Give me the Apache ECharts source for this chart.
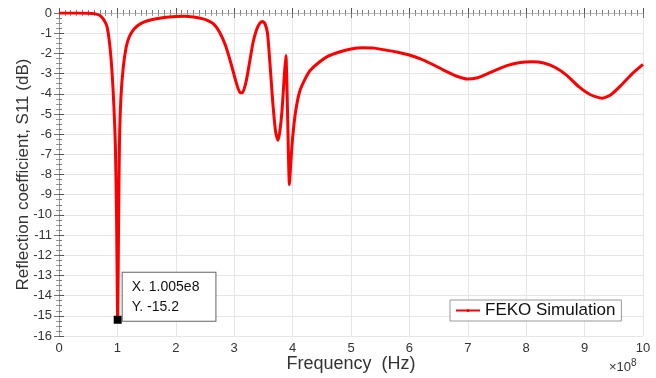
<!DOCTYPE html>
<html>
<head>
<meta charset="utf-8">
<script src="https://cdn.jsdelivr.net/npm/echarts@6/dist/echarts.min.js"></script>
<style>
  html, body { margin: 0; padding: 0; background: #fff; }
  #chart { width: 656px; height: 378px; }
</style>
</head>
<body>
<div id="chart"></div>
<script>
// Frequency in units of 1e8 Hz
const freq = [0, 0.3, 0.5, 0.6, 0.7, 0.76, 0.82, 0.87, 0.91, 0.94, 0.965, 0.985, 1.005,
  1.02, 1.035, 1.06, 1.1, 1.15, 1.2, 1.27, 1.35, 1.45, 1.6, 1.8, 2.0, 2.15, 2.3, 2.45,
  2.55, 2.65, 2.75, 2.85, 2.95, 3.03, 3.1, 3.14, 3.2, 3.26, 3.32, 3.38, 3.44, 3.49, 3.53,
  3.57, 3.61, 3.66, 3.71, 3.75, 3.78, 3.82, 3.86, 3.885, 3.905, 3.925, 3.945, 3.97, 4.0,
  4.05, 4.12, 4.2, 4.3, 4.45, 4.6, 4.8, 5.0, 5.2, 5.4, 5.6, 5.8, 6.0, 6.2, 6.4, 6.6, 6.8,
  7.0, 7.15, 7.3, 7.5, 7.7, 7.9, 8.1, 8.3, 8.5, 8.7, 8.9, 9.1, 9.3, 9.45, 9.6, 9.8, 10.0];
// Reflection coefficient S11 in dB
const s11 = [0, 0, -0.01, -0.03, -0.12, -0.3, -0.65, -1.6, -3.0, -4.6, -6.5, -10, -15.2,
  -10.5, -6.5, -4.2, -2.7, -1.7, -1.2, -0.85, -0.62, -0.45, -0.32, -0.22, -0.17, -0.16, -0.2, -0.28,
  -0.38, -0.55, -0.95, -1.6, -2.55, -3.4, -3.95, -3.95, -3.45, -2.5, -1.5, -0.85, -0.5, -0.42, -0.55,
  -1.0, -2.4, -4.4, -5.9, -6.3, -5.9, -4.8, -3.0, -2.1, -3.8, -6.5, -8.5, -7.4, -6.2,
  -4.9, -3.9, -3.35, -2.85, -2.45, -2.15, -1.93, -1.78, -1.72, -1.74, -1.84, -1.94, -2.08, -2.28, -2.55, -2.85, -3.12,
  -3.27, -3.22, -3.05, -2.8, -2.58, -2.45, -2.42, -2.48, -2.7, -3.1, -3.65, -4.05, -4.22, -4.05, -3.65, -3.05, -2.55];

const seriesName = 'FEKO Simulation';
const tipX = 1.005;
const tipY = -15.2;

const chart = echarts.init(document.getElementById('chart'));
const font = 'Liberation Sans, Arial, sans-serif';

const axisCommon = {
  axisLine: { show: true, lineStyle: { color: '#555', width: 1 } },
  axisTick: { show: true, inside: true, length: 5, lineStyle: { color: '#555' } },
  axisLabel: { color: '#333', fontSize: 13, fontFamily: font },
  splitLine: { show: true, lineStyle: { color: '#e6e6e6', width: 1 } }
};

chart.setOption({
  animation: false,
  backgroundColor: '#fff',
  grid: { left: 59, right: 13, top: 13, bottom: 42, containLabel: false, outerBoundsMode: 'none' },
  legend: {
    data: [seriesName],
    left: 450, top: 300,
    backgroundColor: '#fff',
    borderColor: '#999', borderWidth: 1,
    padding: [2, 6, 2, 5],
    itemWidth: 24, itemHeight: 4, itemGap: 3,
    textStyle: { color: '#111', fontSize: 17, fontFamily: font }
  },
  xAxis: [
    Object.assign({}, axisCommon, {
      type: 'value', min: 0, max: 10, interval: 1,
      minorTick: { show: true, splitNumber: 10, length: 3, lineStyle: { color: '#777' } },
      axisLabel: { color: '#333', fontSize: 13, fontFamily: font, margin: 6 },
      name: 'Frequency  (Hz)', nameLocation: 'middle', nameGap: 19, nameMoveOverlap: false,
      nameTextStyle: { color: '#333', fontSize: 18, fontFamily: font }
    }),
    {
      type: 'value', min: 0, max: 10, interval: 1, position: 'top',
      axisLine: { show: true, lineStyle: { color: '#bbb' } },
      axisTick: { show: true, inside: true, length: 5, lineStyle: { color: '#777' } },
      minorTick: { show: true, splitNumber: 10, length: 3, lineStyle: { color: '#999' } },
      axisLabel: { show: false }, splitLine: { show: false }
    }
  ],
  yAxis: [
    Object.assign({}, axisCommon, {
      type: 'value', min: -16, max: 0, interval: 1,
      minorTick: { show: true, splitNumber: 4, length: 3, lineStyle: { color: '#777' } },
      axisLabel: { color: '#333', fontSize: 13, fontFamily: font, margin: 7 },
      name: 'Reflection coefficient, S11 (dB)', nameLocation: 'middle', nameGap: 27, nameMoveOverlap: false,
      nameTextStyle: { color: '#333', fontSize: 17, fontFamily: font }
    }),
    {
      type: 'value', min: -16, max: 0, interval: 1, position: 'right',
      axisLine: { show: true, lineStyle: { color: '#999' } },
      axisTick: { show: true, inside: true, length: 5, lineStyle: { color: '#777' } },
      minorTick: { show: true, splitNumber: 4, length: 3, lineStyle: { color: '#999' } },
      axisLabel: { show: false }, splitLine: { show: false }
    }
  ],
  series: [{
    name: seriesName,
    type: 'line',
    xAxisIndex: 0, yAxisIndex: 0,
    data: freq.map((f, i) => [f, s11[i]]),
    showSymbol: false,
    symbol: 'circle', symbolSize: 4,
    smooth: 0.2,
    itemStyle: { color: '#ff0000' },
    lineStyle: { color: '#ff0000', width: 3 },
    markPoint: {
      symbol: 'rect', symbolSize: 6,
      itemStyle: { color: '#000', borderColor: '#000' },
      data: [{ coord: [tipX, tipY] }],
      label: {
        show: true,
        position: [9, -43],
        formatter: 'X. 1.005e8\nY. -15.2',
        color: '#111', fontSize: 14, fontFamily: font, lineHeight: 20,
        backgroundColor: '#fff', borderColor: '#666', borderWidth: 1,
        padding: [4, 16, 4, 9], align: 'left', verticalAlign: 'top'
      }
    }
  }],
  graphic: [{
    type: 'text', left: 609, top: 358,
    style: {
      text: '×10{s|8}',
      rich: { s: { fontSize: 10, verticalAlign: 'top', padding: [0, 0, 8, 0], fill: '#333' } },
      fontSize: 13, fontFamily: font, fill: '#333'
    }
  }]
});
</script>
</body>
</html>
